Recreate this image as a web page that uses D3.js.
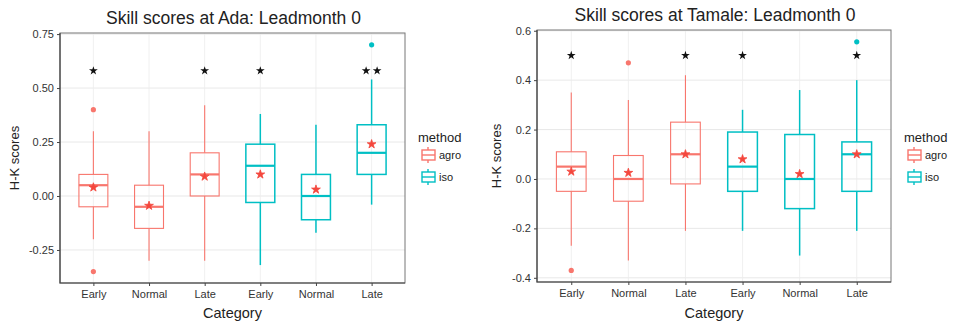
<!DOCTYPE html>
<html>
<head>
<meta charset="utf-8">
<script src="https://cdn.jsdelivr.net/npm/d3@7"></script>
<style>
  body { margin: 0; background: #fff; }
  svg { font-family: "Liberation Sans", Arial, sans-serif; }
</style>
</head>
<body>
<div id="chart"></div>
<script>
// categories and groups
const categories = ["Early", "Normal", "Late", "Early", "Normal", "Late"];
const methods = ["agro", "agro", "agro", "iso", "iso", "iso"];
const method_names = ["agro", "iso"];
const method_colors = ["#F8766D", "#00BFC4"];

// Ada: [lower whisker, q1, median, q3, upper whisker]
const ada_stats = [
  [-0.20, -0.05, 0.05, 0.10, 0.30],
  [-0.30, -0.15, -0.05, 0.05, 0.30],
  [-0.30, 0.00, 0.10, 0.20, 0.42],
  [-0.32, -0.03, 0.14, 0.24, 0.38],
  [-0.17, -0.11, 0.00, 0.10, 0.33],
  [-0.04, 0.10, 0.20, 0.33, 0.54]
];
const ada_means = [0.04, -0.045, 0.09, 0.10, 0.03, 0.24];
const ada_outliers = [[0.40, -0.35], [], [], [], [], [0.70]];
const ada_signif = ["*", "", "*", "*", "", "**"];
const ada_ticks = [-0.25, 0, 0.25, 0.5, 0.75];

// Tamale
const tamale_stats = [
  [-0.27, -0.05, 0.05, 0.11, 0.35],
  [-0.33, -0.09, 0.00, 0.095, 0.32],
  [-0.21, -0.02, 0.10, 0.23, 0.42],
  [-0.21, -0.05, 0.05, 0.19, 0.28],
  [-0.31, -0.12, 0.00, 0.18, 0.36],
  [-0.21, -0.05, 0.10, 0.15, 0.40]
];
const tamale_means = [0.03, 0.025, 0.10, 0.08, 0.02, 0.10];
const tamale_outliers = [[-0.37], [0.47], [], [], [], [0.555]];
const tamale_signif = ["*", "", "*", "*", "", "*"];
const tamale_ticks = [-0.4, -0.2, 0, 0.2, 0.4, 0.6];

const hyphen = (f) => (d) => f(d).replace("\u2212", "-");

const panels = [
  { title: "Skill scores at Ada: Leadmonth 0", stats: ada_stats, means: ada_means,
    outliers: ada_outliers, signif: ada_signif, signif_y: 0.58, ticks: ada_ticks,
    fmt: hyphen(d3.format(".2f")), domain: [-0.403, 0.755],
    x0: 60, x1: 405, y0: 33, y1: 283, title_y: 24, ytitle_x: 19, legend_x: 418 },
  { title: "Skill scores at Tamale: Leadmonth 0", stats: tamale_stats, means: tamale_means,
    outliers: tamale_outliers, signif: tamale_signif, signif_y: 0.5, ticks: tamale_ticks,
    fmt: hyphen(d3.format(".1f")), domain: [-0.417, 0.603],
    x0: 537, x1: 891, y0: 30, y1: 282, title_y: 21, ytitle_x: 501, legend_x: 904 }
];

const svg = d3.select("#chart")
  .append("svg")
    .attr("width", 962)
    .attr("height", 321);

const color = d3.scaleOrdinal(method_names, method_colors);

function draw_panel(p) {
  const g = svg.append("g");
  const idx = d3.range(categories.length);
  const x = d3.scalePoint(idx, [p.x0, p.x1]).padding(0.6);
  const y = d3.scaleLinear(p.domain, [p.y1, p.y0]);
  const box_w = x.step() * 0.52;

  // gridlines
  g.selectAll(".hgrid")
    .data(p.ticks)
    .join("line")
      .attr("x1", p.x0).attr("x2", p.x1)
      .attr("y1", (d) => y(d)).attr("y2", (d) => y(d))
      .attr("stroke", "#e2e2e2").attr("stroke-width", 0.8);
  g.selectAll(".vgrid")
    .data(idx)
    .join("line")
      .attr("x1", (d) => x(d)).attr("x2", (d) => x(d))
      .attr("y1", p.y0).attr("y2", p.y1)
      .attr("stroke", "#ececec").attr("stroke-width", 0.8);

  // boxes
  const box = g.selectAll(".box")
    .data(idx)
    .join("g")
      .attr("stroke", (d) => color(methods[d]))
      .attr("fill", "none")
      .attr("stroke-width", (d) => methods[d] == "iso" ? 1.5 : 1.1);
  box.append("line")
    .attr("x1", (d) => x(d)).attr("x2", (d) => x(d))
    .attr("y1", (d) => y(p.stats[d][3])).attr("y2", (d) => y(p.stats[d][4]));
  box.append("line")
    .attr("x1", (d) => x(d)).attr("x2", (d) => x(d))
    .attr("y1", (d) => y(p.stats[d][0])).attr("y2", (d) => y(p.stats[d][1]));
  box.append("rect")
    .attr("x", (d) => x(d) - box_w / 2)
    .attr("width", box_w)
    .attr("y", (d) => y(p.stats[d][3]))
    .attr("height", (d) => y(p.stats[d][1]) - y(p.stats[d][3]));
  box.append("line")
    .attr("x1", (d) => x(d) - box_w / 2).attr("x2", (d) => x(d) + box_w / 2)
    .attr("y1", (d) => y(p.stats[d][2])).attr("y2", (d) => y(p.stats[d][2]))
    .attr("stroke-width", 2.2);

  // outliers
  const outs = idx.flatMap((i) => p.outliers[i].map((v) => ({ i: i, v: v })));
  g.selectAll(".out")
    .data(outs)
    .join("circle")
      .attr("cx", (d) => x(d.i))
      .attr("cy", (d) => y(d.v))
      .attr("r", 2.6)
      .attr("fill", (d) => color(methods[d.i]));

  // means
  g.selectAll(".mean")
    .data(idx)
    .join("path")
      .attr("transform", (d) => `translate(${x(d)},${y(p.means[d])})`)
      .attr("d", d3.symbol(d3.symbolStar, 24))
      .attr("fill", "#F4473D")
      .attr("stroke", "#F4473D")
      .attr("stroke-width", 0.8);

  // significance stars
  const stars = idx.flatMap((i) => d3.range(p.signif[i].length)
    .map((k) => ({ i: i, k: k, n: p.signif[i].length })));
  g.selectAll(".star")
    .data(stars)
    .join("path")
      .attr("transform", (d) => `translate(${x(d.i) + (d.k - (d.n - 1) / 2) * 11},${y(p.signif_y)})`)
      .attr("d", d3.symbol(d3.symbolStar, 24))
      .attr("fill", "#111");

  // frame
  g.append("rect")
    .attr("x", p.x0).attr("y", p.y0)
    .attr("width", p.x1 - p.x0).attr("height", p.y1 - p.y0)
    .attr("fill", "none").attr("stroke", "#777").attr("stroke-width", 1);
  g.append("path")
    .attr("d", `M${p.x0},${p.y0}V${p.y1}H${p.x1}`)
    .attr("fill", "none").attr("stroke", "#444").attr("stroke-width", 1.2);

  // axes
  const yaxis = g.append("g")
    .attr("transform", `translate(${p.x0},0)`)
    .call(d3.axisLeft(y).tickValues(p.ticks).tickFormat(p.fmt).tickSize(3).tickPadding(3));
  const xaxis = g.append("g")
    .attr("transform", `translate(0,${p.y1})`)
    .call(d3.axisBottom(x).tickFormat((d) => categories[d]).tickSize(3).tickPadding(4));
  [yaxis, xaxis].forEach((a) => {
    a.select(".domain").remove();
    a.selectAll(".tick line").attr("stroke", "#444");
    a.selectAll("text").attr("fill", "#333").attr("font-size", 11)
      .attr("font-family", "Liberation Sans, Arial, sans-serif");
  });

  // titles
  g.append("text")
    .attr("x", (p.x0 + p.x1) / 2 + 1).attr("y", p.title_y)
    .attr("text-anchor", "middle").attr("font-size", 17.5).attr("fill", "#222")
    .text(p.title);
  g.append("text")
    .attr("x", (p.x0 + p.x1) / 2).attr("y", 318)
    .attr("text-anchor", "middle").attr("font-size", 14.5).attr("fill", "#222")
    .text("Category");
  g.append("text")
    .attr("transform", `translate(${p.ytitle_x},${(p.y0 + p.y1) / 2}) rotate(-90)`)
    .attr("text-anchor", "middle").attr("font-size", 13).attr("fill", "#222")
    .text("H-K scores");

  // legend
  const lg = g.append("g").attr("transform", `translate(${p.legend_x},0)`);
  lg.append("text")
    .attr("x", 0).attr("y", 142)
    .attr("font-size", 13).attr("fill", "#222")
    .text("method");
  const keys = lg.selectAll(".key")
    .data(method_names)
    .join("g")
      .attr("transform", (d, i) => `translate(0,${155 + i * 22})`)
      .attr("stroke", (d) => color(d))
      .attr("fill", "none")
      .attr("stroke-width", 1.4);
  keys.append("line").attr("x1", 10).attr("x2", 10).attr("y1", -8).attr("y2", 8);
  keys.append("rect").attr("x", 4).attr("y", -5).attr("width", 13).attr("height", 10).attr("fill", "#fff");
  keys.append("line").attr("x1", 4).attr("x2", 17).attr("y1", 0).attr("y2", 0);
  keys.append("text")
    .attr("x", 21).attr("y", 4)
    .attr("stroke", "none").attr("fill", "#222").attr("font-size", 11)
    .text((d) => d);
}

panels.forEach(draw_panel);
</script>
</body>
</html>
